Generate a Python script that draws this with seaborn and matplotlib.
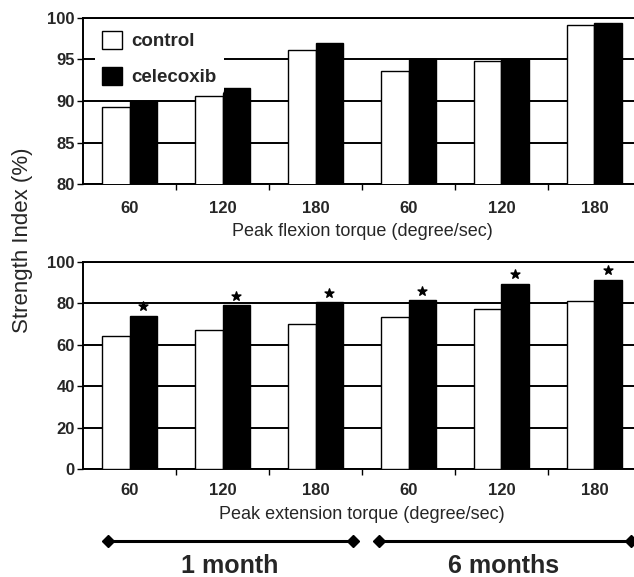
import numpy as np
import pandas as pd
import matplotlib
matplotlib.use("Agg")
import matplotlib.pyplot as plt
import seaborn as sns
from matplotlib.lines import Line2D
from matplotlib.patches import Patch

# ------------------------------------------------------------
# Daten
# ------------------------------------------------------------
speeds = ["60", "120", "180", "60", "120", "180"]
periods = ["1 month"] * 3 + ["6 months"] * 3
groups = ["control", "celecoxib"]

flex_control = [89.3, 90.6, 96.1, 93.6, 94.8, 99.2]
flex_celecoxib = [90.0, 91.6, 97.0, 95.0, 95.0, 99.4]

ext_control = [64.2, 67.3, 70.2, 73.6, 77.4, 81.3]
ext_celecoxib = [74.1, 79.0, 80.6, 81.4, 89.5, 91.4]

keys = [p + " " + s for p, s in zip(periods, speeds)]


def long_df(ctrl, cele):
    return pd.DataFrame({
        "key": keys * 2,
        "group": ["control"] * 6 + ["celecoxib"] * 6,
        "value": ctrl + cele,
    })


sns.set_style("white")
plt.rcParams["font.family"] = ["Liberation Sans", "DejaVu Sans"]

fig = plt.figure(figsize=(6.34, 5.77), dpi=100)
ax_top = fig.add_axes([0.131, 0.681, 0.88, 0.288])
ax_bot = fig.add_axes([0.131, 0.187, 0.88, 0.359])

palette = {"control": "white", "celecoxib": "black"}

panels = [
    (ax_top, long_df(flex_control, flex_celecoxib), (80, 100), [80, 85, 90, 95, 100],
     "Peak flexion torque (degree/sec)", 12, 5),
    (ax_bot, long_df(ext_control, ext_celecoxib), (0, 100), [0, 20, 40, 60, 80, 100],
     "Peak extension torque (degree/sec)", 10, 6),
]

for ax, df, ylim, yticks, xlabel, tpad, lpad in panels:
    sns.barplot(data=df, x="key", y="value", hue="group", order=keys,
                hue_order=groups, palette=palette, edgecolor="black",
                linewidth=1, width=0.6, gap=0, errorbar=None, ax=ax,
                legend=False, zorder=3)
    ax.set_ylim(*ylim)
    ax.set_yticks(yticks)
    ax.set_xlim(-0.5, 5.5)
    ax.set_axisbelow(True)
    ax.yaxis.grid(True, color="black", linewidth=1.4)
    ax.xaxis.grid(False)
    ax.set_xticks(range(6))
    ax.set_xticklabels(speeds, fontsize=12, fontweight="bold")
    ax.set_xticks(np.arange(0.5, 5.5, 1), minor=True)
    ax.tick_params(axis="x", which="major", length=0, pad=tpad)
    ax.tick_params(axis="x", which="minor", length=4, width=1, color="black",
                   direction="out", bottom=True)
    ax.tick_params(axis="y", length=4, width=1, color="black", left=True,
                   direction="out", labelsize=12, pad=2)
    for lab in ax.get_yticklabels():
        lab.set_fontweight("bold")
    ax.set_xlabel(xlabel, fontsize=13, labelpad=lpad)
    ax.set_ylabel("")
    for side in ["left", "bottom", "top"]:
        ax.spines[side].set_color("black")
        ax.spines[side].set_linewidth(1.4)
    ax.spines["right"].set_visible(False)

# Sterne über den celecoxib-Balken (Extension)
star_x = np.arange(6) + 0.15
ax_bot.scatter(star_x, np.array(ext_celecoxib) + 4.5, marker="*", s=45,
               color="black", zorder=4, clip_on=False)

# Legende
handles = [Patch(facecolor="white", edgecolor="black", label="control"),
           Patch(facecolor="black", edgecolor="black", label="celecoxib")]
leg = ax_top.legend(handles=handles, loc="upper left",
                    bbox_to_anchor=(0.021, 0.967), frameon=True,
                    facecolor="white", edgecolor="none", framealpha=1,
                    fontsize=13.5, handlelength=1.07, handleheight=1.07,
                    borderaxespad=0, borderpad=0.4, labelspacing=0.9,
                    handletextpad=0.5)
leg.set_zorder(5)
for t in leg.get_texts():
    t.set_fontweight("bold")

fig.text(0.035, 0.584, "Strength Index (%)", rotation=90, ha="center",
         va="center", fontsize=16)

# Zeitraum-Markierungen unten
spans = [(0.170, 0.557, 0.363, "1 month"), (0.598, 0.996, 0.795, "6 months")]
for x0, x1, xc, label in spans:
    fig.add_artist(Line2D([x0, x1], [0.0624, 0.0624], transform=fig.transFigure,
                          color="black", linewidth=2.2, marker="D",
                          markersize=6))
    fig.text(xc, 0.019, label, ha="center", va="center", fontsize=18,
             fontweight="bold")

fig.savefig("out.png", dpi=100)
